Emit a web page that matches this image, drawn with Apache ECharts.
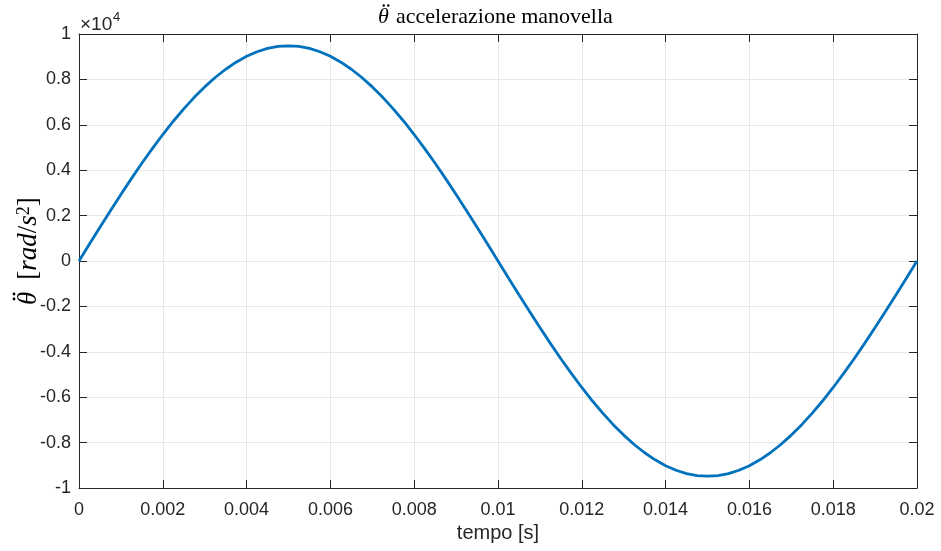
<!DOCTYPE html>
<html>
<head>
<meta charset="utf-8">
<script src="https://cdn.jsdelivr.net/npm/echarts@6/dist/echarts.min.js"></script>
<style>
  html, body { margin: 0; padding: 0; background: #fff; }
  #chart { width: 941px; height: 551px; }
</style>
</head>
<body>
<div id="chart"></div>
<script>
// time samples [s]
const tempo = [
  0, 0.00025, 0.0005, 0.00075, 0.001, 0.00125, 0.0015, 0.00175, 0.002, 0.00225,
  0.0025, 0.00275, 0.003, 0.00325, 0.0035, 0.00375, 0.004, 0.00425, 0.0045, 0.00475,
  0.005, 0.00525, 0.0055, 0.00575, 0.006, 0.00625, 0.0065, 0.00675, 0.007, 0.00725,
  0.0075, 0.00775, 0.008, 0.00825, 0.0085, 0.00875, 0.009, 0.00925, 0.0095, 0.00975,
  0.01, 0.01025, 0.0105, 0.01075, 0.011, 0.01125, 0.0115, 0.01175, 0.012, 0.01225,
  0.0125, 0.01275, 0.013, 0.01325, 0.0135, 0.01375, 0.014, 0.01425, 0.0145, 0.01475,
  0.015, 0.01525, 0.0155, 0.01575, 0.016, 0.01625, 0.0165, 0.01675, 0.017, 0.01725,
  0.0175, 0.01775, 0.018, 0.01825, 0.0185, 0.01875, 0.019, 0.01925, 0.0195, 0.01975,
  0.02
];
// crank angular acceleration [rad/s^2]
const accel = [
  0, 744, 1483, 2213, 2929, 3628, 4304, 4953, 5572, 6157,
  6703, 7209, 7669, 8083, 8447, 8758, 9016, 9218, 9363, 9451,
  9480, 9451, 9363, 9218, 9016, 8758, 8447, 8083, 7669, 7209,
  6703, 6157, 5572, 4953, 4304, 3628, 2929, 2213, 1483, 744,
  0, -744, -1483, -2213, -2929, -3628, -4304, -4953, -5572, -6157,
  -6703, -7209, -7669, -8083, -8447, -8758, -9016, -9218, -9363, -9451,
  -9480, -9451, -9363, -9218, -9016, -8758, -8447, -8083, -7669, -7209,
  -6703, -6157, -5572, -4953, -4304, -3628, -2929, -2213, -1483, -744,
  0
];

const titleText = 'accelerazione manovella';
const xName = 'tempo [s]';
const axisColor = '#262626';
const gridColor = '#e8e8e8';
const sans = 'Liberation Sans, Arial, sans-serif';
const serif = 'Liberation Serif, Times New Roman, serif';

const chart = echarts.init(document.getElementById('chart'), null, { renderer: 'canvas' });

const tickCommon = { show: true, inside: true, length: 8, lineStyle: { color: axisColor, width: 1 } };
const lineCommon = { show: true, onZero: false, lineStyle: { color: axisColor, width: 1 } };

// two dots of the double-dot accent (second derivative)
function ddot(cx, cy, gap, r) {
  return [
    { type: 'circle', shape: { cx: cx - gap / 2, cy: cy, r: r }, style: { fill: '#000' } },
    { type: 'circle', shape: { cx: cx + gap / 2, cy: cy, r: r }, style: { fill: '#000' } }
  ];
}

chart.setOption({
  backgroundColor: '#ffffff',
  animation: false,
  grid: { left: 79, right: 24, top: 34, bottom: 63, containLabel: false },
  xAxis: [{
    type: 'value', min: 0, max: 0.02, interval: 0.002,
    axisLine: lineCommon, axisTick: tickCommon,
    axisLabel: {
      color: axisColor, fontFamily: sans, fontSize: 18, margin: 13,
      formatter: v => String(+v.toFixed(3))
    },
    splitLine: { show: true, lineStyle: { color: gridColor, width: 1 } },
    name: xName, nameLocation: 'middle', nameGap: 35,
    nameTextStyle: { color: axisColor, fontFamily: sans, fontSize: 20 }
  }, {
    type: 'value', position: 'top', min: 0, max: 0.02, interval: 0.002,
    axisLine: lineCommon, axisTick: tickCommon,
    axisLabel: { show: false }, splitLine: { show: false }
  }],
  yAxis: [{
    type: 'value', min: -10000, max: 10000, interval: 2000,
    axisLine: lineCommon, axisTick: tickCommon,
    axisLabel: {
      color: axisColor, fontFamily: sans, fontSize: 18, margin: 8,
      formatter: v => String(+(v / 10000).toFixed(1))
    },
    splitLine: { show: true, lineStyle: { color: gridColor, width: 1 } }
  }, {
    type: 'value', position: 'right', min: -10000, max: 10000, interval: 2000,
    axisLine: lineCommon, axisTick: tickCommon,
    axisLabel: { show: false }, splitLine: { show: false }
  }],
  graphic: [
    // title
    { type: 'group', children: [
      { type: 'text', style: { x: 378, y: 17, text: 'θ', fontFamily: serif, fontStyle: 'italic',
        fontSize: 22, fill: '#000', align: 'left', verticalAlign: 'middle' } },
      { type: 'text', style: { x: 396, y: 17, text: titleText, fontFamily: serif,
        fontSize: 22, fill: '#000', align: 'left', verticalAlign: 'middle' } }
    ].concat(ddot(386, 5.5, 4.5, 1.2)) },
    // y axis title, reading bottom to top
    { type: 'group', x: 29, y: 250, rotation: Math.PI / 2, children: [
      { type: 'text', style: { x: -55, y: 0,
        text: '{it|θ}{gap| }{n|[}{it|rad}{n|/}{it|s}{sup|2}{n|]}',
        align: 'left', verticalAlign: 'middle',
        rich: {
          it: { fontFamily: serif, fontStyle: 'italic', fontSize: 27, fill: '#000' },
          n: { fontFamily: serif, fontSize: 27, fill: '#000' },
          gap: { fontFamily: serif, fontSize: 27, width: 12 },
          sup: { fontFamily: serif, fontSize: 18, fill: '#000', verticalAlign: 'top' }
        } } }
    ].concat(ddot(-46.5, -15, 5, 1.4)) },
    // exponent of the y scale
    { type: 'text', style: { x: 80, y: 25, text: '×10', fontFamily: sans, fontSize: 19,
      fill: axisColor, align: 'left', verticalAlign: 'middle' } },
    { type: 'text', style: { x: 113, y: 17, text: '4', fontFamily: sans, fontSize: 13,
      fill: axisColor, align: 'left', verticalAlign: 'middle' } }
  ],
  series: [{
    type: 'line',
    data: tempo.map((t, i) => [t, accel[i]]),
    smooth: false, showSymbol: false,
    lineStyle: { color: '#0072BD', width: 2.8 },
    xAxisIndex: 0, yAxisIndex: 0
  }]
});
</script>
</body>
</html>
